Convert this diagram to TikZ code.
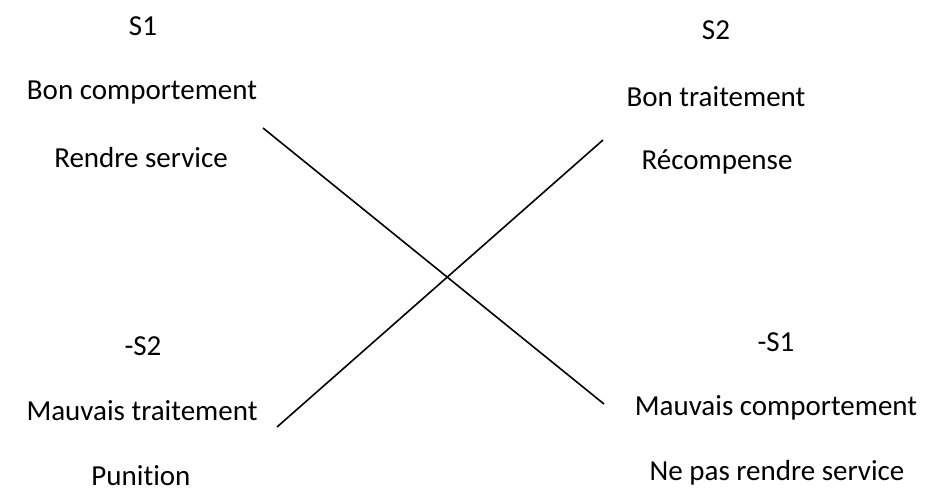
\documentclass[tikz,border=0pt]{standalone}
\usepackage{fontspec}
\setmainfont[Ligatures={NoCommon}]{Carlito}
\begin{document}
\begin{tikzpicture}[x=1pt,y=-1pt,
  lbl/.style={inner sep=0pt,font=\fontsize{29}{33}\selectfont},
  ln/.style={line width=1.6pt,black}]
\useasboundingbox (0,0) rectangle (926,492);
\node[lbl] (s1) at (143,26) {S1};
\node[lbl] (bc) at (142,93) {Bon comportement};
\node[lbl] (rs) at (141,158) {Rendre service};
\node[lbl] (s2) at (716,30) {S2};
\node[lbl] (bt) at (716,97) {Bon traitement};
\node[lbl] (re) at (717,162) {Récompense};
\node[lbl] (ms2) at (143,346) {-S2};
\node[lbl] (mt) at (142,411) {Mauvais traitement};
\node[lbl] (pu) at (141,476) {Punition};
\node[lbl] (ms1) at (776,342) {-S1};
\node[lbl] (mc) at (776,408) {Mauvais comportement};
\node[lbl] (np) at (777,473) {Ne pas rendre service};
\coordinate (a1) at (263,128);
\coordinate (a2) at (604,404);
\coordinate (b1) at (277,427);
\coordinate (b2) at (603,140);
\draw[ln] (a1) -- (a2);
\draw[ln] (b1) -- (b2);
\end{tikzpicture}
\end{document}
